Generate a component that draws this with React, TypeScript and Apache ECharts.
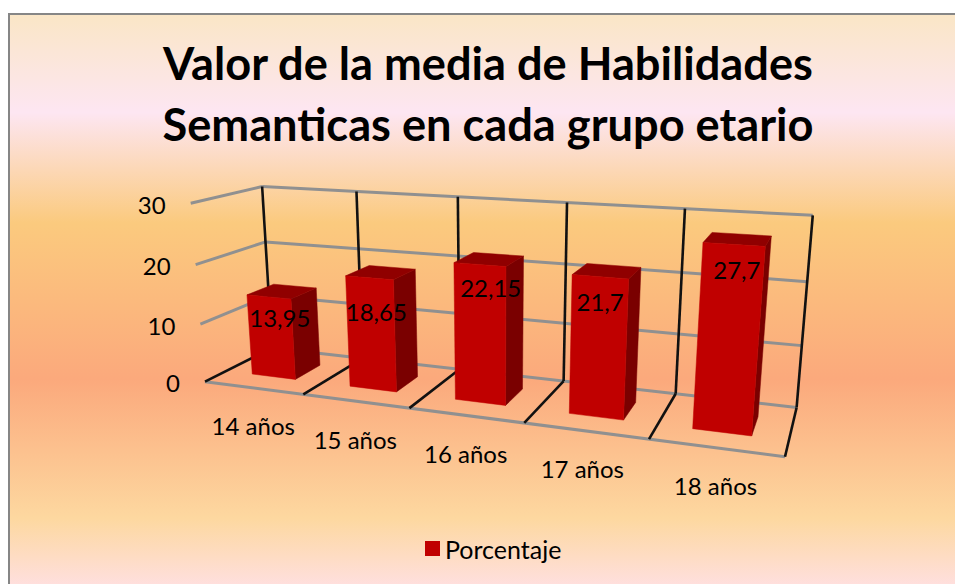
import React, { useEffect, useRef } from "react";
import * as echarts from "echarts";

const title = "Valor de la media de Habilidades\nSemanticas en cada grupo etario";
const seriesName = "Porcentaje";
const categories = ["14 años", "15 años", "16 años", "17 años", "18 años"];
const values = [13.95, 18.65, 22.15, 21.7, 27.7];
const valueLabels = ["13,95", "18,65", "22,15", "21,7", "27,7"];
const yTicks = [0, 10, 20, 30];
const boundaries = [0, 1, 2, 3, 4, 5];

const W = 955;
const H = 584;
const FONT = "Lato";
const labelNudge = [[11, 21], [7, 34], [11, 23], [0, 25], [3, 25]];
const categoryNudge = [0, 0, 0, -3, 0];

// Perspective of the 3D box: u along the categories, v up the value axis, d into the depth.
function perspective(u: number, v: number, d: number) {
  const w = 1 - 0.1837 * u - 0.047 * v + 0.1096 * d;
  return [
    (205 + 435.8 * u - 23.26 * v + 96.8 * d) / w,
    (381.7 - 8.9 * u - 187.96 * v + 4.45 * d) / w,
  ];
}

function projector(api: any) {
  return (cat: number, val: number, d: number) => {
    const p = api.coord([cat, val]);
    return perspective(p[0] / W, 1 - p[1] / H, d);
  };
}

const line = (a: number[], b: number[], stroke: string, lineWidth: number) => ({
  type: "line",
  shape: { x1: a[0], y1: a[1], x2: b[0], y2: b[1] },
  style: { stroke, lineWidth },
});

const text = (s: string, x: number, y: number, align: string) => ({
  type: "text",
  x,
  y,
  style: { text: s, fontSize: 24, fontFamily: FONT, fill: "#000", align, verticalAlign: "middle" },
});

const face = (points: number[][], fill: string) => ({
  type: "polygon",
  shape: { points },
  style: { fill, stroke: fill, lineWidth: 0.5 },
});

export default function App() {
  const ref = useRef<HTMLDivElement>(null);
  useEffect(() => {
    const chart = echarts.init(ref.current!, null, { renderer: "svg" });
    const GRAY = "#909090";
    const BLACK = "#111";
    chart.setOption({
      animation: false,
      backgroundColor: "#fff",
      title: {
        text: title,
        left: 483,
        top: 27,
        textAlign: "center",
        textStyle: { fontFamily: FONT, fontWeight: "bold", fontSize: 45.2, lineHeight: 61, color: "#000" },
      },
      legend: {
        data: [{ name: seriesName, icon: "rect" }],
        left: 420,
        top: 531,
        itemWidth: 15,
        itemHeight: 15,
        itemGap: 7,
        textStyle: { fontFamily: FONT, fontSize: 25, color: "#000", padding: [0, 0, 0, 0] },
      },
      grid: { left: 0, top: 0, width: W, height: H },
      xAxis: { type: "value", min: 0, max: 5, show: false },
      yAxis: { type: "value", min: 0, max: 30, interval: 10, show: false },
      graphic: [
        {
          type: "rect",
          z: -10,
          shape: { x: 9, y: 14, width: 960, height: 580 },
          style: {
            stroke: "#868686",
            lineWidth: 2,
            fill: {
              type: "linear",
              x: 0, y: 0, x2: 0, y2: 1,
              colorStops: [
                { offset: 0, color: "#FAE6C6" },
                { offset: 0.17, color: "#FDE6F2" },
                { offset: 0.36, color: "#FBCA7E" },
                { offset: 0.63, color: "#FBA97C" },
                { offset: 0.87, color: "#FDD8A0" },
                { offset: 1, color: "#FFE0E6" },
              ],
            },
          },
        },
      ],
      series: [
        {
          type: "custom",
          name: "gridlines",
          silent: true,
          z: 1,
          data: yTicks.map((t) => [0, t]),
          renderItem: (_: any, api: any) => {
            const P = projector(api);
            const t = api.value(1);
            const children: any[] = [];
            if (t > 0) children.push(line(P(0, t, 0), P(0, t, 1), GRAY, 3));
            else children.push(line(P(0, 0, 0), P(5, 0, 0), GRAY, 3));
            children.push(line(P(0, t, 1), P(5, t, 1), GRAY, 3));
            const a = P(0, t, 0);
            children.push(text(String(t), a[0] - 25, a[1] + 1, "right"));
            return { type: "group", children };
          },
        },
        {
          type: "custom",
          name: "separators",
          silent: true,
          z: 2,
          data: boundaries.map((b) => [b, 0]),
          renderItem: (_: any, api: any) => {
            const P = projector(api);
            const b = api.value(0);
            return {
              type: "group",
              children: [
                line(P(b, 0, 0), P(b, 0, 1), BLACK, 2.6),
                line(P(b, 0, 1), P(b, 30, 1), BLACK, 2.6),
              ],
            };
          },
        },
        {
          type: "custom",
          name: seriesName,
          z: 3,
          itemStyle: { color: "#C00000" },
          data: values.map((v, i) => [i, v]),
          renderItem: (_: any, api: any) => {
            const P = projector(api);
            const i = api.value(0);
            const v = api.value(1);
            const l = i + 0.5 - 0.225;
            const r = i + 0.5 + 0.225;
            const f = 0.3;
            const k = 0.7;
            const mid = P(i + 0.5, v, f);
            const foot = P(i + 0.5, 0, 0);
            const n = labelNudge[i];
            return {
              type: "group",
              children: [
                face([P(r, 0, f), P(r, 0, k), P(r, v, k), P(r, v, f)], "#7A0000"),
                face([P(l, v, f), P(r, v, f), P(r, v, k), P(l, v, k)], "#900000"),
                face([P(l, 0, f), P(r, 0, f), P(r, v, f), P(l, v, f)], "#C00000"),
                text(valueLabels[i], mid[0] + n[0], mid[1] + n[1], "center"),
                text(categories[i], foot[0] + categoryNudge[i], foot[1] + 38, "center"),
              ],
            };
          },
        },
      ],
    });
    return () => chart.dispose();
  }, []);
  return <div ref={ref} style={{ position: "absolute", left: 0, top: 0, width: W, height: H }} />;
}
